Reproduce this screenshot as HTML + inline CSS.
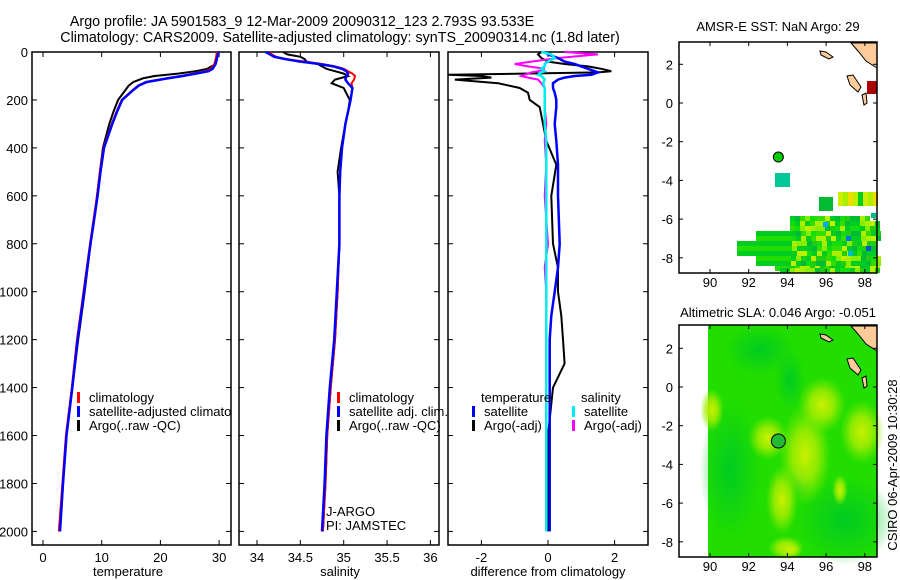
<!DOCTYPE html>
<html><head><meta charset="utf-8">
<style>
body{margin:0;background:#fff;}
svg{display:block;font-family:"Liberation Sans",sans-serif;}
text{font-size:13px;fill:#000;}
.ttl{font-size:14.3px;}
</style></head>
<body>
<svg id="fig" width="900" height="580" viewBox="0 0 900 580" xmlns="http://www.w3.org/2000/svg">
<defs>
<clipPath id="clipT"><rect x="32" y="52" width="199" height="493"/></clipPath>
<linearGradient id="darkg" x1="0" y1="0" x2="1" y2="1"><stop offset="0" stop-color="#00cc22" stop-opacity="0"/><stop offset="1" stop-color="#00bb33" stop-opacity="1"/></linearGradient>
</defs>
<text class="ttl" x="302" y="26" text-anchor="middle">Argo profile: JA 5901583_9 12-Mar-2009 20090312_123 2.793S 93.533E</text>
<text class="ttl" x="340" y="42" text-anchor="middle">Climatology: CARS2009. Satellite-adjusted climatology: synTS_20090314.nc (1.8d later)</text>
<g id="g"></g>
</svg>
<script>
// ---- data ----
const tDepth=[0,20,50,70,80,90,100,110,125,140,160,200,250,300,400,500,600,700,800,1000,1200,1400,1600,1800,2000];
const tClim=[29.6,29.5,29.2,28.6,27.8,25.6,23.5,21.0,17.5,16.2,15.2,13.4,12.5,11.7,10.3,9.7,9.2,8.6,8.0,6.9,5.8,4.9,3.9,3.3,2.7];
const tSat=[29.9,29.7,29.4,28.9,28.2,26.0,23.8,21.2,17.7,16.3,15.3,13.5,12.6,11.8,10.4,9.8,9.3,8.7,8.1,7.0,5.9,5.0,4.0,3.4,2.9];
const tArgo=[29.8,29.7,29.4,28.0,26.0,23.0,19.0,17.0,15.4,14.6,14.0,12.8,12.0,11.3,10.2,9.7,9.2,8.7,8.1,7.1,6.0,5.0,4.0,3.4,2.9];
const sDepth=[0,10,20,30,40,50,60,70,80,90,100,115,130,150,200,250,300,400,500,600,800,1000,1200,1400,1600,1800,2000];
const sClim=[34.15,34.17,34.22,34.35,34.55,34.75,34.9,35.0,35.05,35.1,35.13,35.12,35.09,35.1,35.08,35.05,35.02,34.98,34.96,34.95,34.95,34.93,34.9,34.85,34.81,34.79,34.76];
const sSat=[34.1,34.15,34.2,34.33,34.5,34.72,34.88,34.98,35.03,35.05,35.03,35.02,35.05,35.1,35.08,35.05,35.02,34.98,34.96,34.95,34.95,34.92,34.89,34.84,34.8,34.78,34.75];
const sArgo=[34.3,34.35,34.5,34.55,34.57,34.7,34.75,34.8,34.9,35.0,35.05,34.9,34.86,35.0,35.07,35.05,35.02,34.97,34.93,34.95,34.95,34.93,34.9,34.85,34.81,34.79,34.76];
const dDepth=[0,10,25,40,50,60,70,80,85,95,100,107,115,130,150,170,200,230,300,370,470,600,800,900,1000,1100,1200,1300,1400,1600,1800,2000];
const dTempSat=[-0.1,0.0,0.3,0.5,0.8,1.0,1.2,1.4,1.5,1.3,0.8,0.5,0.3,0.15,0.15,0.2,0.25,0.25,0.2,0.25,0.3,0.3,0.35,0.3,0.2,0.1,0.05,0.05,0.05,0.05,0.05,0.05];
const dTempArgo=[-0.2,-0.3,-0.2,0.0,0.5,1.2,1.6,1.9,1.5,-3.0,-2.0,-1.7,-2.8,-1.5,-0.85,-0.6,-0.55,-0.25,-0.15,-0.05,0.25,0.1,0.15,0.3,0.3,0.4,0.45,0.5,0.15,0.0,0.0,0.0];
const dSalSat=[-0.2,0.1,0.2,0.0,-0.1,-0.1,-0.2,-0.1,-0.2,-0.3,-0.2,-0.15,-0.1,-0.15,-0.1,-0.1,-0.1,-0.1,-0.1,-0.05,-0.05,-0.05,-0.05,-0.05,-0.05,-0.05,-0.05,-0.05,-0.05,-0.05,-0.05,-0.05];
const dSalArgo=[0.5,1.5,0.3,-0.5,-1.0,-0.6,-0.1,-0.3,-0.5,-0.7,-0.8,-0.6,-0.3,-0.2,-0.1,-0.1,-0.1,-0.1,-0.05,-0.1,-0.05,-0.1,0.0,-0.1,-0.05,-0.05,-0.05,-0.05,-0.05,-0.05,-0.05,-0.05];
const depthTicks=[0,200,400,600,800,1000,1200,1400,1600,1800,2000];
const tempTicks=[0,10,20,30];
const salTicks=["34","34.5","35","35.5","36"];
const diffTicks=[-2,0,2];
const latTicks=[2,0,-2,-4,-6,-8];
const lonTicks=[90,92,94,96,98];
const argoLon=93.533, argoLat=-2.793;

// ---- helpers ----
const NS='http://www.w3.org/2000/svg';
const G=document.getElementById('g');
function mk(tag,attrs,parent,txt){const e=document.createElementNS(NS,tag);for(const k in attrs)e.setAttribute(k,attrs[k]);if(txt!==undefined)e.textContent=txt;(parent||G).appendChild(e);return e;}
const yD=d=>52+d*0.2397;
function panel(name,x0,x1,xs,xticks,xlabel,labelX){
  const r=mk('rect',{x:x0,y:52,width:x1-x0,height:493,fill:'none',stroke:'#000','stroke-width':1.5});
  
  
  xticks.forEach(t=>{const x=xs(+t);
    mk('line',{x1:x,x2:x,y1:52,y2:57,stroke:'#000'});mk('line',{x1:x,x2:x,y1:545,y2:540,stroke:'#000'});
    const tl=mk('text',{x:x,y:562,'text-anchor':'middle'},G,String(t));
    
    });
  depthTicks.forEach(d=>{const y=yD(d);
    mk('line',{x1:x0,x2:x0+5,y1:y,y2:y,stroke:'#000'});mk('line',{x1:x1,x2:x1-5,y1:y,y2:y,stroke:'#000'});});
  const xl=mk('text',{x:labelX,y:576,'text-anchor':'middle'},G,xlabel);
  
  
}
function line(name,depths,vals,xs,color,w){
  const pts=depths.map((d,i)=>xs(vals[i]).toFixed(1)+','+yD(d).toFixed(1)).join(' ');
  const p=mk('polyline',{points:pts,fill:'none',stroke:color,'stroke-width':w,'stroke-linejoin':'miter'});
  
  
}
function legend(name,x,y,color,label,clip){
  const b=mk('rect',{x:x,y:y-10,width:3,height:11,fill:color});
  
  
  const t=mk('text',{x:x+12,y:y},G,label);
  if(clip)t.setAttribute('clip-path','url(#clipT)');
  
  
}
// depth labels
depthTicks.forEach(d=>{const t=mk('text',{x:28,y:yD(d)+5,'text-anchor':'end'},G,String(d));
  
  });

// temperature panel
const xT=v=>43+v*5.87;
panel('temperature-panel',32,231,xT,tempTicks,'temperature',128);
line('temp-argo-line',tDepth,tArgo,xT,'#000',2);
line('temp-clim-line',tDepth,tClim,xT,'#f00',2);
line('temp-sat-line',tDepth,tSat,xT,'#00f',2.5);
legend('legend-climatology',77,402,'#f00','climatology');
legend('legend-satellite-adjusted',77,416,'#00f','satellite-adjusted climatology',true);
legend('legend-argo-raw',77,430,'#000','Argo(..raw -QC)');

// salinity panel
const xS=v=>257+(v-34)*86.7;
panel('salinity-panel',239,439,xS,salTicks,'salinity',340);
line('sal-argo-line',sDepth,sArgo,xS,'#000',2);
line('sal-clim-line',sDepth,sClim,xS,'#f00',2);
line('sal-sat-line',sDepth,sSat,xS,'#00f',2.5);
legend('legend-sal-climatology',337,402,'#f00','climatology');
legend('legend-sal-satellite',337,416,'#00f','satellite adj. clim.');
legend('legend-sal-argo',337,430,'#000','Argo(..raw -QC)');
[['J-ARGO',516],['PI: JAMSTEC',530]].forEach(a=>{const t=mk('text',{x:326,y:a[1]},G,a[0]);
  
  });

// difference panel
const xDf=v=>548+v*33.3;
panel('difference-panel',448,648,xDf,diffTicks,'difference from climatology',548);
line('diff-temp-argo-line',dDepth,dTempArgo,xDf,'#000',2);
line('diff-sal-argo-line',dDepth,dSalArgo,xDf,'#f0f',2);
line('diff-temp-sat-line',dDepth,dTempSat,xDf,'#00f',2.5);
line('diff-sal-sat-line',dDepth,dSalSat,xDf,'#0ee',2.5);
[['temperature',481],['salinity',581]].forEach(a=>{const t=mk('text',{x:a[1],y:402},G,a[0]);
  
  });
legend('legend-diff-temp-sat',472,416,'#00f','satellite');
legend('legend-diff-temp-argo',472,430,'#000','Argo(-adj)');
legend('legend-diff-sal-sat',572,416,'#0ee','satellite');
legend('legend-diff-sal-argo',572,430,'#f0f','Argo(-adj)');

// ---- maps ----
const MX0=679,MX1=877;
const lonX=l=>710+(l-90)*19.35;
function mapFrame(name,top,bot,lat0y){
  const latY=l=>lat0y-l*19.35;
  const r=mk('rect',{x:MX0,y:top,width:MX1-MX0,height:bot-top,fill:'none',stroke:'#000','stroke-width':1.5});
  
  
  latTicks.forEach(l=>{const y=latY(l);
    mk('line',{x1:MX0,x2:MX0+4,y1:y,y2:y,stroke:'#000'});mk('line',{x1:MX1,x2:MX1-4,y1:y,y2:y,stroke:'#000'});
    const t=mk('text',{x:673,y:y+5,'text-anchor':'end'},G,String(l));
    
    });
  lonTicks.forEach(l=>{const x=lonX(l);
    mk('line',{x1:x,x2:x,y1:top,y2:top+4,stroke:'#000'});mk('line',{x1:x,x2:x,y1:bot,y2:bot-4,stroke:'#000'});
    const t=mk('text',{x:x,y:bot+14,'text-anchor':'middle'},G,String(l));
    
    });
  return latY;
}
function land(top){
  const g=mk('g',{fill:'#ffcc99',stroke:'#000','stroke-width':1});
  
  
  mk('polygon',{points:`851,${top} 877,${top} 877,${top+25} 866,${top+18} 858,${top+8}`},g);
  mk('polygon',{points:`847,${top+33} 853,${top+32} 861,${top+44} 858,${top+49} 850,${top+42}`},g);
  mk('polygon',{points:`820,${top+8} 826,${top+9} 833,${top+14} 829,${top+16} 821,${top+12}`},g);
  mk('polygon',{points:`862,${top+52} 866,${top+50} 867,${top+60} 864,${top+62}`},g);
}
// SST map
mk('text',{x:778,y:31,'text-anchor':'middle',},G,'AMSR-E SST: NaN Argo: 29');
const sstG=mk('g',{});


const pal=['#00cc22','#33dd00','#88ee00','#bbf000','#00bb33','#11dd11','#aaee00','#00cc22','#22cc11'];
const rows=[[216,790,868],[221,790,877],[226,790,877],[231,756,877],[236,756,877],[241,737,877],[246,737,877],[251,737,877],[256,756,877],[261,756,877],[266,775,877],[268,780,877]];
rows.forEach((r,ri)=>{for(let x=r[1],ci=0;x<r[2];x+=5,ci++){const c=(x<790)?(ri%2?'#00cc22':'#22dd00'):pal[(ri*5+ci*3+(ci*ci)%7)%pal.length];
  mk('rect',{x:x,y:r[0],width:5,height:5,fill:c},sstG);}});
for(let x=838,ci=0;x<874;x+=5,ci++){mk('rect',{x:x,y:192,width:5,height:14,fill:['#ccee00','#aaee00','#eedd00','#bbf000','#00cc22'][ci%5]},sstG);}
mk('rect',{x:867,y:81,width:10,height:13,fill:'#aa0000'},sstG);
mk('rect',{x:775,y:173,width:15,height:14,fill:'#00c896'},sstG);
mk('rect',{x:819,y:197,width:14,height:14,fill:'#00bb33'},sstG);
[[823,222,'#00aaee'],[846,236,'#0077dd'],[866,246,'#0055cc'],[848,251,'#00bbcc'],[871,213,'#00bb88']].forEach(c=>mk('rect',{x:c[0],y:c[1],width:5,height:5,fill:c[2]},sstG));
land(43);
const latY1=mapFrame('sst-map',42,273,103);
mk('circle',{cx:lonX(argoLon),cy:latY1(argoLat),r:5,fill:'#00cc00',stroke:'#000',});

// SLA map
mk('text',{x:778,y:317,'text-anchor':'middle',},G,'Altimetric SLA: 0.046 Argo: -0.051');
const defs=mk('defs',{});
const rg=mk('radialGradient',{id:'hl'},defs);
mk('stop',{offset:'0','stop-color':'#ccf000','stop-opacity':1},rg);
mk('stop',{offset:'0.5','stop-color':'#aaee00','stop-opacity':0.8},rg);
mk('stop',{offset:'1','stop-color':'#88ee00','stop-opacity':0},rg);
const rd=mk('radialGradient',{id:'dk'},defs);
mk('stop',{offset:'0','stop-color':'#00cc22','stop-opacity':1},rd);
mk('stop',{offset:'1','stop-color':'#00cc22','stop-opacity':0},rd);
const slaG=mk('g',{});


mk('rect',{x:708,y:325,width:169,height:232,fill:'#22dd00'},slaG);
[[845,520,50,45],[730,470,30,70],[760,350,35,25],[790,380,15,30],[800,480,12,20]].forEach(e=>mk('ellipse',{cx:e[0],cy:e[1],rx:e[2],ry:e[3],fill:'url(#dk)'},slaG));
[[805,455,26,50],[822,405,24,28],[862,432,22,32],[768,438,20,22],[712,410,12,22],[782,500,16,35],[786,548,18,12],[840,490,8,16],[790,550,12,8]].forEach(e=>mk('ellipse',{cx:e[0],cy:e[1],rx:e[2],ry:e[3],fill:'url(#hl)'},slaG));
land(326);
const latY2=mapFrame('sla-map',325,557,387);
mk('circle',{cx:lonX(argoLon),cy:latY2(argoLat),r:7,fill:'#22bb33',stroke:'#000',});
mk('text',{x:897,y:465,'text-anchor':'middle',transform:'rotate(-90 897 465)',},G,'CSIRO 06-Apr-2009 10:30:28');
</script>
</body></html>
